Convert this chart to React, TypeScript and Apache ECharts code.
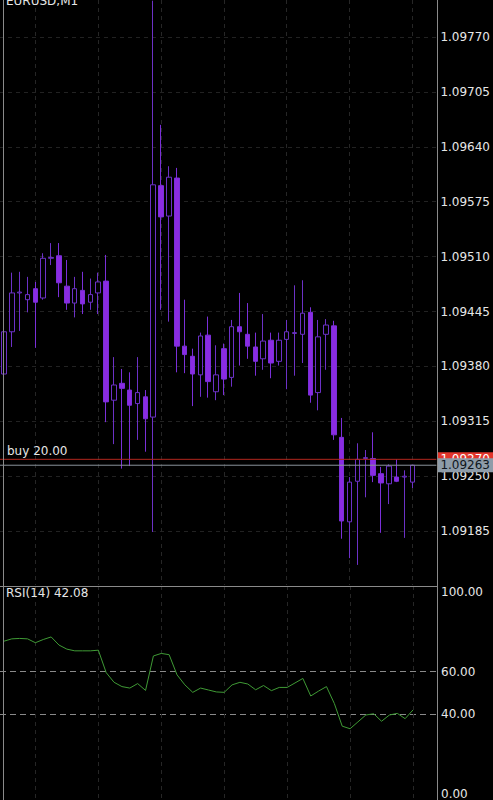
import React, { useEffect, useRef } from "react";
import * as echarts from "echarts";

const symbolTitle = "EURUSD,M1";

const candleOpen = [
  1.09371, 1.09421, 1.09467, 1.09459, 1.09472, 1.09461, 1.09508, 1.09511, 1.09475, 1.09455,
  1.0947, 1.09456, 1.09467, 1.09481, 1.0934, 1.0936, 1.09352, 1.09336, 1.09344, 1.0932,
  1.09594, 1.09558, 1.09603, 1.09404, 1.09392, 1.0937, 1.09417, 1.0935, 1.09401, 1.09367,
  1.09427, 1.09418, 1.09403, 1.09389, 1.09411, 1.09386, 1.09412, 1.09419, 1.09418, 1.09444,
  1.09349, 1.09418, 1.09428, 1.09296, 1.09196, 1.09244, 1.09271, 1.09271, 1.09253, 1.09241,
  1.09249, 1.09249, 1.09243,
];
const candleClose = [
  1.09421, 1.09467, 1.09468, 1.09465, 1.09456, 1.09508, 1.09509, 1.09479, 1.09455, 1.09472,
  1.09454, 1.09465, 1.0948, 1.09338, 1.09358, 1.09354, 1.09334, 1.09349, 1.09318, 1.09595,
  1.09557, 1.09604, 1.09404, 1.09394, 1.09371, 1.09416, 1.09362, 1.0937, 1.09365, 1.09427,
  1.09421, 1.09404, 1.09386, 1.0941, 1.09384, 1.09411, 1.09421, 1.0942, 1.09443, 1.09346,
  1.09415, 1.09429, 1.09299, 1.09197, 1.09243, 1.0927, 1.09272, 1.09251, 1.09242, 1.09262,
  1.09244, 1.0925, 1.09263,
];
const candleLow = [
  1.09369, 1.09403, 1.09422, 1.09444, 1.09402, 1.09459, 1.095, 1.09462, 1.09447, 1.09438,
  1.09442, 1.09447, 1.09442, 1.09314, 1.09288, 1.09259, 1.09262, 1.09293, 1.09279, 1.09184,
  1.09447, 1.09433, 1.09373, 1.09372, 1.09333, 1.09344, 1.09343, 1.0934, 1.09346, 1.09356,
  1.09381, 1.09389, 1.09369, 1.09376, 1.09366, 1.09381, 1.09353, 1.09369, 1.09384, 1.09337,
  1.09328, 1.09376, 1.09293, 1.09176, 1.09153, 1.09145, 1.09225, 1.09243, 1.09183, 1.09217,
  1.09243, 1.09177, 1.09236,
];
const candleHigh = [
  1.09423, 1.09491, 1.09492, 1.09486, 1.0948, 1.09514, 1.09526, 1.09526, 1.09506, 1.09486,
  1.09492, 1.09484, 1.09491, 1.09512, 1.09391, 1.09377, 1.09373, 1.09391, 1.09352, 1.09813,
  1.09666, 1.09617, 1.09615, 1.09459, 1.09401, 1.0942, 1.09439, 1.09405, 1.09407, 1.09435,
  1.09467, 1.09455, 1.0942, 1.09442, 1.0942, 1.0942, 1.09435, 1.09476, 1.09482, 1.0945,
  1.09435, 1.09436, 1.09434, 1.09319, 1.09249, 1.09289, 1.09281, 1.09302, 1.09261, 1.09264,
  1.0927, 1.09257, 1.09263,
];
const rsiValues = [
  74.2, 75.3, 75.5, 75.3, 73.5, 75.0, 76.2, 72.4, 70.5, 69.7,
  69.7, 69.7, 70.0, 59.5, 55.0, 53.0, 52.3, 54.4, 51.2, 67.3,
  68.5, 67.9, 58.5, 53.8, 50.3, 52.3, 51.4, 50.5, 50.3, 53.8,
  55.0, 54.2, 51.5, 53.5, 51.1, 52.6, 52.6, 54.7, 56.8, 48.6,
  50.9, 53.0, 45.1, 34.5, 33.3, 36.5, 39.7, 40.3, 36.8, 39.7,
  40.5, 38.0, 42.08,
];
const priceTicks = [1.09185, 1.0925, 1.09315, 1.0938, 1.09445, 1.0951, 1.09575, 1.0964, 1.09705, 1.0977];
const rsiTicks = [0, 40, 60, 100];
const timeGridBars = [4, 12, 20, 28, 36, 44, 52];
const rsiPeriod = 14;
const buyPrice = 1.0927;
const buyLots = "20.00";
const bidPrice = 1.09263;

const FONT = "DejaVu Sans";
const X_MIN = -0.5;
const X_MAX = 55.05;

export default function App() {
  const ref = useRef<HTMLDivElement>(null);
  useEffect(() => {
    const chart = echarts.init(ref.current!, null, { renderer: "svg" });
    const candles = candleOpen.map((o, i) => [i, o, candleClose[i], candleLow[i], candleHigh[i]]);
    const rsi = rsiValues.map((v, i) => [i, v]);
    const xAxisBase = {
      type: "value" as const,
      min: X_MIN,
      max: X_MAX,
      axisLine: { show: false },
      axisLabel: { show: false },
      axisTick: { show: false, customValues: timeGridBars },
      splitLine: { show: true, lineStyle: { color: "#262626", type: [4, 4] as any, width: 1 } },
    };
    const option: any = {
      animation: false,
      backgroundColor: "#000",
      textStyle: { fontFamily: FONT },
      grid: [
        { left: 0, top: 0, width: 437, height: 585 },
        { left: 0, top: 586, width: 437, height: 220 },
      ],
      xAxis: [
        { ...xAxisBase, gridIndex: 0 },
        { ...xAxisBase, gridIndex: 1 },
      ],
      yAxis: [
        {
          gridIndex: 0,
          type: "value",
          position: "right",
          min: 1.091212,
          max: 1.098138,
          axisLine: { show: false },
          axisTick: { show: false, customValues: priceTicks },
          axisLabel: {
            customValues: priceTicks,
            formatter: (v: number) => v.toFixed(5),
            color: "#e6e6e6",
            fontSize: 12,
            fontFamily: FONT,
            margin: 4,
          },
          splitLine: { show: true, lineStyle: { color: "#222222", type: [4, 4], width: 1 } },
        },
        {
          gridIndex: 1,
          type: "value",
          position: "right",
          min: 0,
          max: 100,
          axisLine: { show: false },
          axisTick: { show: false, customValues: rsiTicks },
          axisLabel: {
            customValues: rsiTicks,
            formatter: (v: number) => v.toFixed(2),
            color: "#e6e6e6",
            fontSize: 12,
            fontFamily: FONT,
            margin: 4,
            verticalAlignMaxLabel: "top",
            verticalAlignMinLabel: "bottom",
          },
          splitLine: { show: true, lineStyle: { color: "#8a8a8a", type: [6, 4], width: 1 } },
        },
      ],
      series: [
        {
          type: "candlestick",
          xAxisIndex: 0,
          yAxisIndex: 0,
          data: candles,
          encode: { x: 0, y: [1, 2, 3, 4] },
          barWidth: 5,
          itemStyle: {
            color: "#000",
            color0: "#8a2be2",
            borderColor: "#6c31c6",
            borderColor0: "#7a2fd8",
            borderWidth: 1,
          },
        },
        {
          type: "line",
          name: "buy",
          xAxisIndex: 0,
          yAxisIndex: 0,
          z: 3,
          symbol: "circle",
          symbolSize: 0,
          showSymbol: true,
          silent: true,
          itemStyle: { color: "transparent" },
          lineStyle: { color: "#b3261e", width: 1 },
          data: [
            {
              value: [X_MIN, buyPrice],
              label: {
                show: true,
                position: "top",
                align: "left",
                offset: [7, 0],
                distance: 2,
                formatter: `buy ${buyLots}`,
                color: "#e6e6e6",
                fontSize: 12,
                fontFamily: FONT,
              },
            },
            [X_MAX, buyPrice],
          ],
          endLabel: {
            show: true,
            formatter: buyPrice.toFixed(5),
            color: "#ffffff",
            backgroundColor: "#e2352b",
            fontSize: 12,
            fontFamily: FONT,
            lineHeight: 14,
            padding: [0, 12, 0, 3],
            distance: 1,
          },
        },
        {
          type: "line",
          name: "bid",
          xAxisIndex: 0,
          yAxisIndex: 0,
          z: 5,
          symbol: "none",
          silent: true,
          lineStyle: { color: "#8a929a", width: 1 },
          data: [
            [X_MIN, bidPrice],
            [X_MAX, bidPrice],
          ],
          endLabel: {
            show: true,
            formatter: bidPrice.toFixed(5),
            color: "#0e1620",
            backgroundColor: "#8e9ca9",
            fontSize: 12,
            fontFamily: FONT,
            lineHeight: 14,
            padding: [0, 12, 0, 3],
            distance: 1,
          },
        },
        {
          type: "line",
          xAxisIndex: 1,
          yAxisIndex: 1,
          data: rsi,
          symbol: "none",
          lineStyle: { color: "#3f9a35", width: 1 },
        },
      ],
      graphic: [
        { type: "line", z: 100, shape: { x1: 3.5, y1: 0, x2: 3.5, y2: 800 }, style: { stroke: "#8a8a8a", lineWidth: 1 } },
        { type: "line", z: 100, shape: { x1: 437.5, y1: 0, x2: 437.5, y2: 800 }, style: { stroke: "#8a8a8a", lineWidth: 1 } },
        { type: "line", z: 100, shape: { x1: 3, y1: 586.5, x2: 437, y2: 586.5 }, style: { stroke: "#8a8a8a", lineWidth: 1 } },
        {
          type: "text",
          z: 100,
          style: { text: symbolTitle, x: 6, y: 7, verticalAlign: "bottom", fill: "#e6e6e6", font: `12px '${FONT}'` },
        },
        {
          type: "text",
          z: 100,
          style: {
            text: `RSI(${rsiPeriod}) ${rsiValues[rsiValues.length - 1].toFixed(2)}`,
            x: 6,
            y: 593,
            verticalAlign: "middle",
            fill: "#e6e6e6",
            font: `12px '${FONT}'`,
          },
        },
      ],
    };
    chart.setOption(option);
    return () => chart.dispose();
  }, []);
  return (
    <div
      ref={ref}
      style={{ position: "fixed", left: 0, top: 0, width: 493, height: 800, background: "#000" }}
    />
  );
}
